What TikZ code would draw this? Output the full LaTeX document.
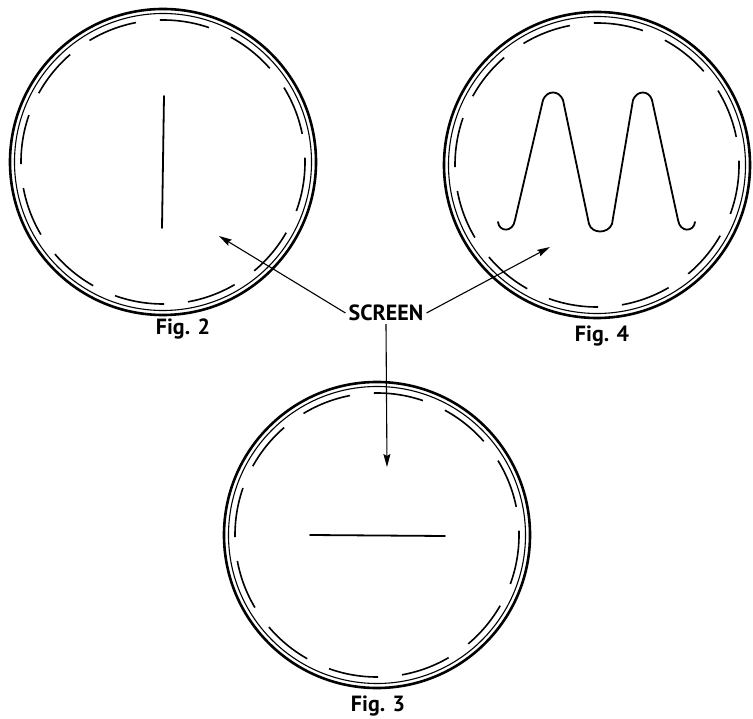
\documentclass[tikz,border=0pt]{standalone}
\usepackage{fontspec}
\setmainfont{PT Sans}
\usetikzlibrary{arrows.meta}

\begin{document}
\begin{tikzpicture}[
  x=1pt, y=-1pt,
  rim/.style={line width=2.6pt},
  glass/.style={line width=1.1pt},
  mask/.style={line width=1.6pt, dash pattern=on 50pt off 24pt},
  trace/.style={line width=1.8pt, line cap=round, line join=round},
  lbl/.style={font=\fontsize{22}{26}\selectfont\bfseries, inner sep=3pt},
  arr/.style={-{Stealth[length=13pt, width=7pt, inset=2pt]}, line width=1.1pt},
]
\useasboundingbox (0,0) rectangle (753,719);
% Pantallas
\foreach \cx/\cy in {163/162, 597/165, 377/535} {
  \draw[rim]   (\cx,\cy) circle[radius=153];
  \draw[glass] (\cx,\cy) circle[radius=148.5];
  \draw[mask]  (\cx,\cy) circle[radius=142];
}
% Trazos
\draw[trace] (164,96) -- (162,228);
\draw[trace] (310,535) -- (445,536);
\draw[trace] (498,222) .. controls (499,232) and (513,233) .. (515,220)
  -- (543,100) .. controls (547,90) and (559,90) .. (563,100)
  -- (589,224) .. controls (592,234) and (608,234) .. (612,224)
  -- (633,100) .. controls (637,90) and (649,90) .. (652,100)
  -- (678,220) .. controls (680,233) and (694,232) .. (695,222);
% Rotulos
\node[lbl] (screen) at (386,313) {SCREEN};
\node[lbl] (fig2) at (183,329) {Fig. 2};
\node[lbl] (fig4) at (602,336) {Fig. 4};
\node[lbl] (fig3) at (378,706) {Fig. 3};
% Flechas
\coordinate (tip2) at (219,236);
\coordinate (tip4) at (550,247);
\coordinate (tip3) at (387,467);
\draw[arr] (screen.west)  -- (tip2);
\draw[arr] (screen.east)  -- (tip4);
\draw[arr] (screen.south) -- (tip3);
\end{tikzpicture}
\end{document}
